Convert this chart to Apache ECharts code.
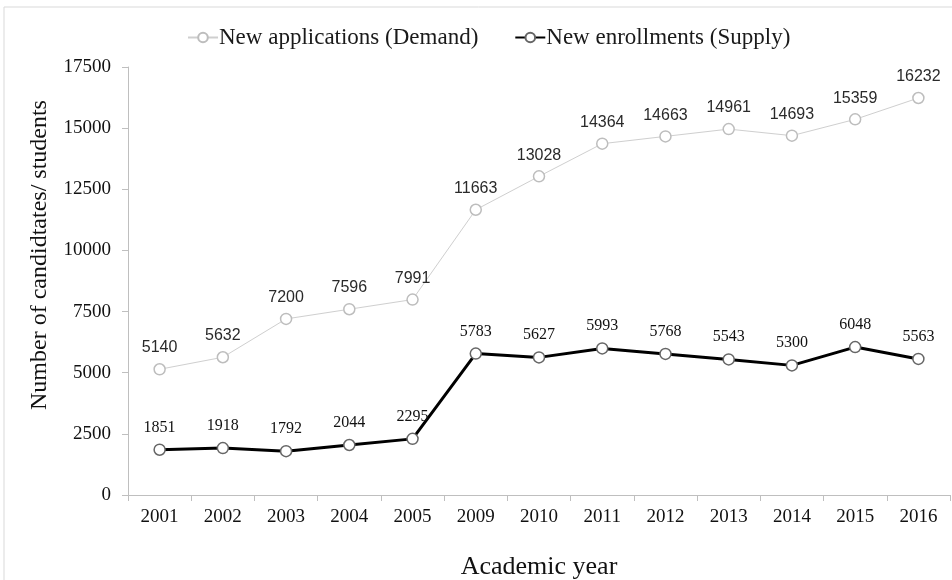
<!DOCTYPE html>
<html><head><meta charset="utf-8">
<script src="https://cdn.jsdelivr.net/npm/echarts@6/dist/echarts.min.js"></script>
<style>html,body{margin:0;padding:0;background:#fff}#c{width:952px;height:580px}</style>
</head><body><div id="c"></div>
<script>
const years = ['2001','2002','2003','2004','2005','2009','2010','2011','2012','2013','2014','2015','2016'];
const demand = [5140,5632,7200,7596,7991,11663,13028,14364,14663,14961,14693,15359,16232];
const supply = [1851,1918,1792,2044,2295,5783,5627,5993,5768,5543,5300,6048,5563];
const yTicks = [0,2500,5000,7500,10000,12500,15000,17500];
const serif = '"Liberation Serif","DejaVu Serif",serif';
const sans = '"Liberation Sans","DejaVu Sans",sans-serif';
const chart = echarts.init(document.getElementById('c'));
chart.setOption({
  animation:false,
  backgroundColor:'#fff',
  graphic:[{type:'rect',shape:{x:4,y:7,width:960,height:600},style:{fill:'none',stroke:'#d9d9d9',lineWidth:1}}],
  legend:{
    top:21, left:182, itemGap:36, itemWidth:30, itemHeight:12,
    textStyle:{fontFamily:serif,fontSize:23,color:'#1a1a1a',padding:[0,0,0,-4]},
    data:['New applications (Demand)','New enrollments (Supply)']
  },
  grid:{left:128,right:2,top:67,bottom:85,containLabel:false,outerBoundsMode:'none'},
  xAxis:{
    type:'category', data:years, boundaryGap:true,
    name:'Academic year', nameLocation:'middle', nameGap:59,
    nameTextStyle:{fontFamily:serif,fontSize:26,color:'#111'},
    axisLine:{lineStyle:{color:'#bfbfbf'}},
    axisTick:{show:true,length:6,lineStyle:{color:'#bfbfbf'}},
    axisLabel:{fontFamily:serif,fontSize:19,color:'#111',margin:13}
  },
  yAxis:{
    type:'value', min:yTicks[0], max:yTicks[yTicks.length-1], interval:2500,
    name:'Number of candidtates/ students', nameLocation:'middle', nameGap:76,
    nameTextStyle:{fontFamily:serif,fontSize:24,color:'#111',padding:[0,0,0,52]},
    splitLine:{show:false},
    axisLine:{show:true,lineStyle:{color:'#bfbfbf'}},
    axisTick:{show:true,length:6,lineStyle:{color:'#bfbfbf'}},
    axisLabel:{fontFamily:serif,fontSize:19,color:'#111',margin:17,formatter:v=>String(v)}
  },
  series:[
    {
      name:'New applications (Demand)', type:'line', data:demand,
      symbol:'circle', symbolSize:11,
      lineStyle:{color:'#cfcfcf',width:1},
      itemStyle:{color:'#fff',borderColor:'#bdbdbd',borderWidth:1.5},
      label:{show:true,position:'top',distance:7,fontFamily:sans,fontSize:16,color:'#2a2a2a'}
    },
    {
      name:'New enrollments (Supply)', type:'line', data:supply,
      symbol:'circle', symbolSize:11,
      lineStyle:{color:'#000',width:3},
      itemStyle:{color:'#fff',borderColor:'#666',borderWidth:1.5},
      label:{show:true,position:'top',distance:8,fontFamily:serif,fontSize:16,color:'#111'}
    }
  ]
});
</script></body></html>
